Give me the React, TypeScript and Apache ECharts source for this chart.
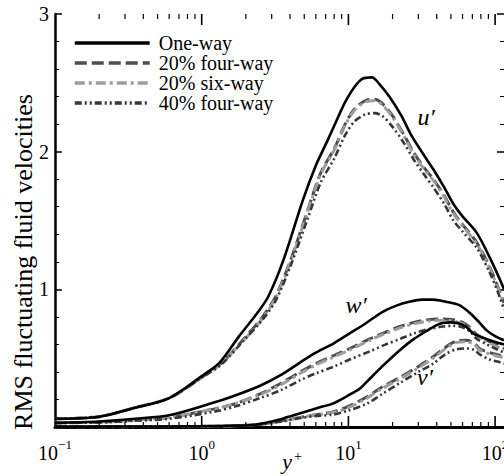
import React, { useEffect, useRef } from "react";
import * as echarts from "echarts";

const FONT = "'Liberation Serif', 'Times New Roman', Times, serif";

const legendNames = ["One-way", "20% four-way", "20% six-way", "40% four-way"];
const yTitle = "RMS fluctuating fluid velocities";

// u' curves
const uOneX = [0.1, 0.2, 0.35, 0.6, 1.0, 1.33, 1.8, 2.4, 2.85, 3.6, 4.9, 6, 7.2, 8.5, 9.5, 11, 12.5, 14.5, 16, 19, 23, 26.5, 32, 38, 45, 52, 60, 75, 92, 108, 115];
const uOneY = [0.06, 0.075, 0.14, 0.21, 0.37, 0.47, 0.66, 0.83, 0.95, 1.21, 1.65, 1.9, 2.08, 2.25, 2.36, 2.47, 2.53, 2.54, 2.5, 2.4, 2.26, 2.13, 1.99, 1.87, 1.74, 1.62, 1.53, 1.41, 1.23, 1.07, 1.0];
const uX = [0.1, 0.2, 0.35, 0.6, 1.0, 1.35, 1.9, 2.6, 3.2, 4.0, 5.3, 6.5, 8, 9.5, 11, 13, 15, 17, 20, 24, 28, 33, 38, 45, 52, 60, 75, 92, 108, 115];
const u20fY = [0.06, 0.075, 0.14, 0.21, 0.36, 0.46, 0.63, 0.8, 0.95, 1.2, 1.58, 1.85, 2.02, 2.2, 2.31, 2.37, 2.38, 2.35, 2.26, 2.12, 1.99, 1.88, 1.8, 1.68, 1.56, 1.47, 1.34, 1.16, 0.98, 0.9];
const u20sY = [0.06, 0.075, 0.14, 0.21, 0.36, 0.46, 0.62, 0.79, 0.94, 1.19, 1.57, 1.84, 2.01, 2.19, 2.3, 2.36, 2.37, 2.34, 2.25, 2.11, 1.98, 1.87, 1.79, 1.67, 1.55, 1.46, 1.33, 1.15, 0.97, 0.89];
const u40fY = [0.06, 0.075, 0.14, 0.21, 0.36, 0.45, 0.62, 0.78, 0.92, 1.16, 1.52, 1.78, 1.95, 2.12, 2.22, 2.27, 2.28, 2.26, 2.18, 2.06, 1.94, 1.83, 1.74, 1.62, 1.5, 1.42, 1.3, 1.12, 0.94, 0.85];

// w' curves
const wOneX = [0.1, 0.2, 0.35, 0.6, 1.15, 1.6, 2.5, 3.5, 4.7, 6, 8, 10.2, 13, 17, 21, 26, 32, 38, 46, 57, 67, 78, 88, 100, 115];
const wOneY = [0.03, 0.04, 0.06, 0.085, 0.17, 0.22, 0.3, 0.38, 0.47, 0.54, 0.61, 0.68, 0.75, 0.835, 0.88, 0.91, 0.925, 0.925, 0.91, 0.885, 0.83, 0.76, 0.7, 0.66, 0.63];
const wX = [0.1, 0.2, 0.35, 0.6, 1.2, 1.7, 2.5, 3.5, 4.7, 6, 8, 10.2, 14, 18, 22.5, 28, 35, 44, 52, 60, 68, 75, 88, 100, 115];
const w20fY = [0.03, 0.035, 0.05, 0.07, 0.13, 0.17, 0.24, 0.32, 0.4, 0.46, 0.52, 0.57, 0.64, 0.69, 0.73, 0.76, 0.78, 0.785, 0.78, 0.76, 0.72, 0.67, 0.63, 0.6, 0.57];
const w20sY = [0.03, 0.035, 0.05, 0.07, 0.13, 0.17, 0.235, 0.31, 0.39, 0.45, 0.51, 0.56, 0.63, 0.68, 0.72, 0.75, 0.77, 0.775, 0.77, 0.75, 0.71, 0.66, 0.62, 0.59, 0.56];
const w40fY = [0.03, 0.033, 0.045, 0.06, 0.11, 0.15, 0.21, 0.27, 0.34, 0.39, 0.44, 0.49, 0.55, 0.6, 0.64, 0.68, 0.71, 0.73, 0.735, 0.725, 0.69, 0.64, 0.6, 0.57, 0.54];

// v' curves
const vOneX = [0.1, 0.5, 1, 1.6, 2.2, 3, 3.8, 4.7, 6, 7.8, 10, 12, 13.4, 17, 22.5, 28, 34.4, 40, 44, 50, 55, 63, 71, 82, 92, 105, 115];
const vOneY = [0.003, 0.004, 0.006, 0.01, 0.015, 0.04, 0.07, 0.1, 0.135, 0.17, 0.23, 0.28, 0.33, 0.44, 0.56, 0.64, 0.7, 0.74, 0.755, 0.76, 0.755, 0.73, 0.68, 0.65, 0.63, 0.61, 0.6];
const vX = [0.1, 0.5, 1, 1.6, 2.5, 3.5, 4.7, 6, 7.85, 10, 13.4, 17, 22.5, 30, 37.8, 46, 55, 64, 72, 78, 92, 108, 115];
const v20fY = [0.002, 0.003, 0.004, 0.008, 0.02, 0.045, 0.07, 0.09, 0.11, 0.15, 0.22, 0.29, 0.36, 0.44, 0.51, 0.58, 0.625, 0.63, 0.61, 0.57, 0.54, 0.52, 0.51];
const v20sY = [0.002, 0.003, 0.004, 0.008, 0.019, 0.043, 0.068, 0.087, 0.105, 0.14, 0.21, 0.28, 0.35, 0.43, 0.5, 0.57, 0.615, 0.62, 0.6, 0.56, 0.53, 0.51, 0.5];
const v40fY = [0.002, 0.003, 0.004, 0.007, 0.018, 0.04, 0.065, 0.08, 0.09, 0.12, 0.17, 0.24, 0.32, 0.4, 0.46, 0.53, 0.565, 0.57, 0.56, 0.53, 0.49, 0.47, 0.46];

// x-axis tick positions (log axis)
const xMajorTicks = [1, 10, 100];
const xMinorTicks = [0.2, 0.3, 0.4, 0.5, 0.6, 0.7, 0.8, 0.9, 2, 3, 4, 5, 6, 7, 8, 9, 20, 30, 40, 50, 60, 70, 80, 90];

const X_MIN = 0.1;
const X_MAX = 115;
const Y_MIN = 0;
const Y_MAX = 3;

const styles: Record<string, any> = {
  "One-way": { color: "#000000", width: 2.6, type: "solid" },
  "20% four-way": { color: "#4e4e4e", width: 3, type: [12, 5] },
  "20% six-way": { color: "#9d9d9d", width: 3, type: [10, 4, 3, 4] },
  "40% four-way": { color: "#363636", width: 2.6, type: [7, 3, 2, 3, 2, 3] },
};

const zip = (xs: number[], ys: number[]) => xs.map((x, i) => [x, ys[i]]);

const curves: [string, number[], number[]][] = [
  ["One-way", uOneX, uOneY],
  ["20% four-way", uX, u20fY],
  ["20% six-way", uX, u20sY],
  ["40% four-way", uX, u40fY],
  ["One-way", wOneX, wOneY],
  ["20% four-way", wX, w20fY],
  ["20% six-way", wX, w20sY],
  ["40% four-way", wX, w40fY],
  ["One-way", vOneX, vOneY],
  ["20% four-way", vX, v20fY],
  ["20% six-way", vX, v20sY],
  ["40% four-way", vX, v40fY],
];

export default function App() {
  const ref = useRef<HTMLDivElement>(null);
  useEffect(() => {
    if (!ref.current) return;
    const chart = echarts.init(ref.current, null, { renderer: "svg" });
    const lineSeries = curves.map(([name, xs, ys]) => ({
      type: "line",
      name,
      data: zip(xs, ys),
      symbol: "none",
      showSymbol: false,
      smooth: 0.3,
      lineStyle: { ...styles[name], cap: "butt" },
      itemStyle: { color: styles[name].color },
      z: name === "One-way" ? 3 : 2,
    }));
    const tickData = [
      ...xMajorTicks.map((v) => [v, 0, 1]),
      ...xMinorTicks.map((v) => [v, 0, 0]),
    ];
    const tickSeries = {
      type: "custom",
      name: "ticks",
      silent: true,
      clip: false,
      data: tickData,
      encode: { x: 0, y: 1 },
      z: 5,
      renderItem: (params: any, api: any) => {
        const x = api.value(0);
        const major = api.value(2) === 1;
        const len = major ? 11 : 5;
        const b = api.coord([x, Y_MIN]);
        const t = api.coord([x, Y_MAX]);
        const st = { stroke: "#000", lineWidth: major ? 1.6 : 1.2 };
        return {
          type: "group",
          children: [
            { type: "line", shape: { x1: b[0], y1: b[1], x2: b[0], y2: b[1] - len }, style: st },
            { type: "line", shape: { x1: t[0], y1: t[1], x2: t[0], y2: t[1] + len }, style: st },
          ],
        };
      },
    };
    const supLabel = (v: number) => {
      const e = Math.round(Math.log10(v));
      const s = e < 0 ? "\u2212" + -e : String(e);
      return "{b|10}{s|" + s + "}";
    };
    chart.setOption({
      animation: false,
      backgroundColor: "#ffffff",
      textStyle: { fontFamily: FONT },
      grid: { left: 55, right: 0, top: 14, bottom: 49, containLabel: false, outerBoundsMode: "none" },
      legend: {
        data: legendNames,
        orient: "vertical",
        left: 73,
        top: 33,
        padding: 0,
        itemWidth: 75,
        itemHeight: 14,
        itemGap: 0,
        itemStyle: { opacity: 0 },
        lineStyle: { width: 3.5 },
        textStyle: {
          fontFamily: FONT,
          fontSize: 20,
          color: "#000",
          lineHeight: 19.5,
          padding: [0, 0, 0, 4],
        },
      },
      xAxis: [
        {
          type: "log",
          logBase: 10,
          min: X_MIN,
          max: X_MAX,
          position: "bottom",
          axisLine: { show: true, lineStyle: { color: "#000", width: 3 } },
          axisTick: { show: false },
          minorTick: { show: false },
          splitLine: { show: false },
          axisLabel: {
            show: true,
            margin: 11,
            fontFamily: FONT,
            formatter: supLabel,
            rich: {
              b: { fontFamily: FONT, fontSize: 20, color: "#000" },
              s: { fontFamily: FONT, fontSize: 13, color: "#000", padding: [0, 0, 16, 0] },
            },
          },
        },
        {
          type: "log",
          logBase: 10,
          min: X_MIN,
          max: X_MAX,
          position: "top",
          axisLine: { show: true, lineStyle: { color: "#000", width: 2.5 } },
          axisTick: { show: false },
          axisLabel: { show: false },
          splitLine: { show: false },
        },
      ],
      yAxis: [
        {
          type: "value",
          min: Y_MIN,
          max: Y_MAX,
          interval: 1,
          position: "left",
          axisLine: { show: true, lineStyle: { color: "#000", width: 2.5 } },
          axisTick: { show: true, inside: true, length: 7, lineStyle: { color: "#000", width: 1.5 } },
          minorTick: { show: true, splitNumber: 5, length: 4, lineStyle: { color: "#000", width: 1 } },
          splitLine: { show: false },
          axisLabel: {
            margin: 6,
            fontFamily: FONT,
            fontSize: 20,
            color: "#000",
            formatter: (v: number) => (v === 0 ? "" : String(v)),
          },
        },
        {
          type: "value",
          min: Y_MIN,
          max: Y_MAX,
          interval: 1,
          position: "right",
          axisLine: { show: false },
          axisTick: { show: true, inside: true, length: 7, lineStyle: { color: "#000", width: 1.5 } },
          minorTick: { show: true, splitNumber: 5, length: 4, lineStyle: { color: "#000", width: 1 } },
          axisLabel: { show: false },
          splitLine: { show: false },
        },
      ],
      graphic: [
        { type: "text", x: 23, y: 262, rotation: Math.PI / 2, style: { text: yTitle, font: "26px " + FONT, fill: "#000", textAlign: "center", textVerticalAlign: "middle" } },
        { type: "text", x: 287, y: 461, style: { text: "y", font: "italic 22px " + FONT, fill: "#000", textAlign: "center", textVerticalAlign: "middle" } },
        { type: "text", x: 298, y: 456, style: { text: "+", font: "14px " + FONT, fill: "#000", textAlign: "center", textVerticalAlign: "middle" } },
        { type: "text", x: 426, y: 117, style: { text: "u\u2032", font: "italic 24px " + FONT, fill: "#000", textAlign: "center", textVerticalAlign: "middle" } },
        { type: "text", x: 356, y: 305, style: { text: "w\u2032", font: "italic 24px " + FONT, fill: "#000", textAlign: "center", textVerticalAlign: "middle" } },
        { type: "text", x: 425, y: 377, style: { text: "v\u2032", font: "italic 24px " + FONT, fill: "#000", textAlign: "center", textVerticalAlign: "middle" } },
      ],
      series: [...lineSeries, tickSeries],
    });
    return () => chart.dispose();
  }, []);
  return (
    <div
      ref={ref}
      style={{ position: "fixed", left: 0, top: 0, width: 504, height: 476, background: "#fff" }}
    />
  );
}
